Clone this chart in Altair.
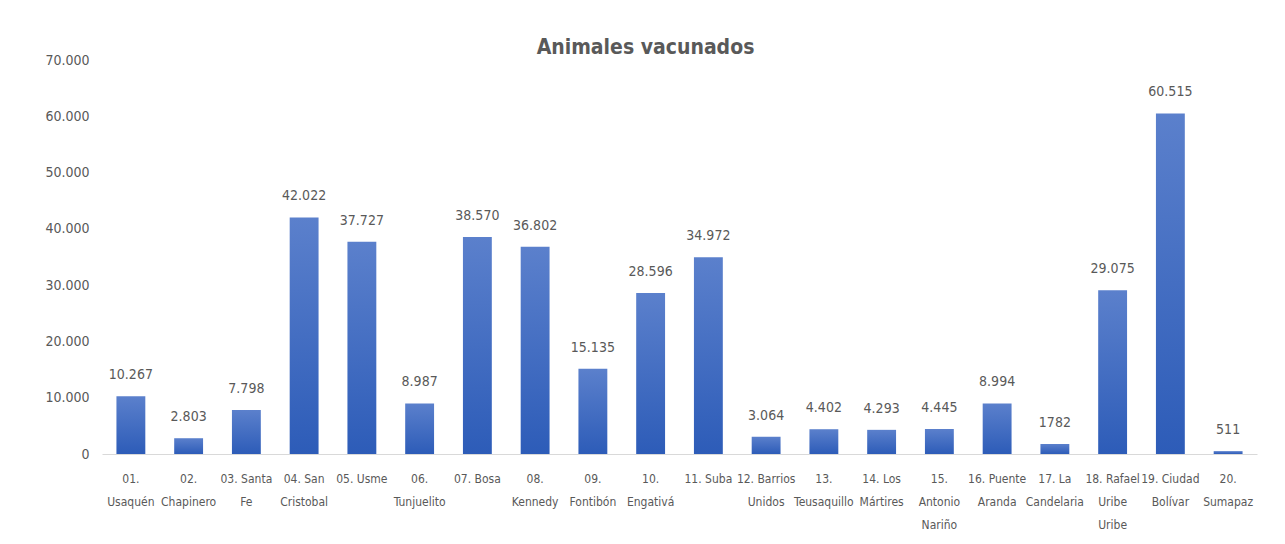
import altair as alt
import pandas as pd

districts = [
    "01.\nUsaquén", "02.\nChapinero", "03. Santa\nFe", "04. San\nCristobal",
    "05. Usme", "06.\nTunjuelito", "07. Bosa", "08.\nKennedy", "09.\nFontibón",
    "10.\nEngativá", "11. Suba", "12. Barrios\nUnidos", "13.\nTeusaquillo",
    "14. Los\nMártires", "15.\nAntonio\nNariño", "16. Puente\nAranda",
    "17. La\nCandelaria", "18. Rafael\nUribe\nUribe", "19. Ciudad\nBolívar",
    "20.\nSumapaz",
]
vaccinated = [10267, 2803, 7798, 42022, 37727, 8987, 38570, 36802, 15135, 28596,
              34972, 3064, 4402, 4293, 4445, 8994, 1782, 29075, 60515, 511]
value_labels = ["10.267", "2.803", "7.798", "42.022", "37.727", "8.987", "38.570",
                "36.802", "15.135", "28.596", "34.972", "3.064", "4.402", "4.293",
                "4.445", "8.994", "1782", "29.075", "60.515", "511"]
y_ticks = [0, 10000, 20000, 30000, 40000, 50000, 60000, 70000]

df = pd.DataFrame({"distrito": districts, "animales": vaccinated, "etiqueta": value_labels})

FONT = "DejaVu Sans Condensed"
GRAY = "#595959"

x = alt.X("distrito:N", sort=districts, title=None,
          scale=alt.Scale(paddingInner=0.5, paddingOuter=0.25),
          axis=alt.Axis(labelAngle=0, ticks=False, domainColor="#d9d9d9", domainWidth=1.2,
                        labelPadding=24, labelFontSize=12, labelColor=GRAY, labelFont=FONT,
                        labelLineHeight=23, labelExpr="split(datum.label, '\\n')",
                        labelBaseline="middle"))
y = alt.Y("animales:Q", title=None,
          scale=alt.Scale(domain=[0, 70000], nice=False),
          axis=alt.Axis(values=y_ticks, grid=False, domain=False, ticks=False,
                        labelPadding=13, labelFontSize=14, labelColor=GRAY, labelFont=FONT,
                        labelExpr="replace(format(datum.value, ','), ',', '.')"))

bars = alt.Chart(df).mark_bar(
    color=alt.Gradient(
        gradient="linear", x1=0, x2=0, y1=0, y2=1,
        stops=[alt.GradientStop(color="#5b80cc", offset=0),
               alt.GradientStop(color="#2d5cb8", offset=1)],
    )
).encode(x=x, y=y)

labels = alt.Chart(df).mark_text(
    baseline="alphabetic", dy=-17, fontSize=14, color=GRAY, font=FONT
).encode(x=alt.X("distrito:N", sort=districts), y="animales:Q", text="etiqueta:N")

chart = alt.layer(bars, labels).properties(
    width=1155, height=394,
    autosize=alt.AutoSizeParams(type="none"),
    padding={"left": 94, "top": 52, "right": 12, "bottom": 82},
    title=alt.TitleParams("Animales vacunados", fontSize=21, font=FONT, fontWeight="bold",
                          color=GRAY, anchor="middle", frame="group", dx=-34, offset=-5),
).configure(background="white").configure_view(stroke=None)

chart.save("out.html", embed_options={"renderer": "svg", "actions": False})
